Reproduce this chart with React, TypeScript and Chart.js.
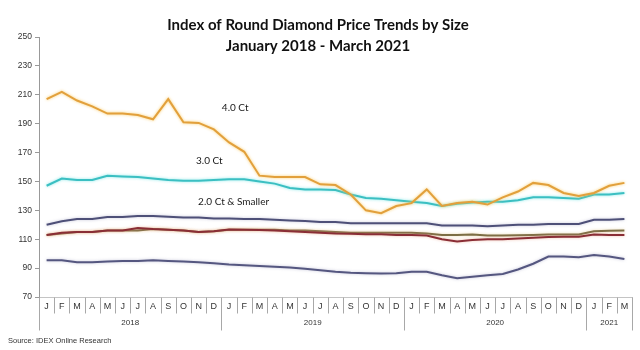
import React, { useEffect, useRef } from "react";
import { Chart, registerables } from "chart.js";

Chart.register(...registerables);

// ---------- data ----------
const monthLabels = [
  "J", "F", "M", "A", "M", "J", "J", "A", "S", "O", "N", "D",
  "J", "F", "M", "A", "M", "J", "J", "A", "S", "O", "N", "D",
  "J", "F", "M", "A", "M", "J", "J", "A", "S", "O", "N", "D",
  "J", "F", "M",
];
const yearLabels = ["2018", "2019", "2020", "2021"];
const monthsPerYear = [12, 12, 12, 3];
const yTickValues = [70, 90, 110, 130, 150, 170, 190, 210, 230, 250];

const ct40 = [
  207, 212, 206, 202, 197, 197, 196, 193, 207, 191, 190.5, 186,
  177, 170.5, 154, 153, 153, 153, 148, 147.5, 141, 130, 128, 133,
  135, 144.5, 133, 135, 136, 134, 139, 143, 149, 147.5, 142, 140,
  142, 147, 149,
];
const ct30 = [
  147, 152, 151, 151, 154, 153.5, 153, 152, 151, 150.5, 150.5, 151,
  151.5, 151.5, 150, 148.5, 145.5, 144.5, 144.5, 144, 141, 138.5, 138, 137,
  136, 135, 133, 134.5, 135.5, 136, 136, 137, 139, 139, 138.5, 138,
  141, 141, 142,
];
const smallerA = [
  120, 122.5, 124, 124, 125.3, 125.3, 126, 126, 125.5, 125, 125, 124.4,
  124.4, 124, 124, 123.5, 123, 122.6, 122, 122, 121, 121, 121, 121,
  121, 121, 119.5, 119.5, 119.5, 119, 119.5, 120, 120, 120.5, 120.5, 120.6,
  123.5, 123.5, 124,
];
const smallerB = [
  113, 114, 115, 115, 116, 116, 116, 117, 116.5, 116, 115, 115.5,
  116.5, 116.5, 116.5, 116.5, 116, 116, 115.5, 115, 114.5, 114.5, 114.5, 114.5,
  114.5, 114, 113, 113, 113.2, 112.5, 112.5, 112.8, 113, 113.2, 113.3, 113.3,
  115.5, 115.8, 116,
];
const smallerC = [
  113, 114.5, 115, 115, 116, 116, 117.8, 117, 116.5, 116, 115, 115.5,
  116.8, 116.5, 116.4, 116, 115.5, 115, 114.5, 114, 113.8, 113.5, 113.5, 113,
  113, 112.5, 110, 108.5, 109.5, 110, 110, 110.5, 111, 111.5, 111.7, 111.7,
  113.2, 113, 113,
];
const smallerD = [
  95.5, 95.5, 94, 94, 94.5, 95, 95, 95.5, 95, 94.5, 94, 93.3,
  92.5, 92, 91.5, 91, 90.5, 89.5, 88.5, 87.5, 86.8, 86.5, 86.3, 86.5,
  87.5, 87.5, 85, 83, 84, 85, 86, 89, 93, 98, 98, 97.5,
  99, 98, 96.3,
];

const titleLines = ["Index of Round Diamond Price Trends by Size", "January 2018 - March 2021"];
const sourceText = "Source: IDEX Online Research";

// series label annotations (anchored in data space)
const seriesLabels = [
  { text: "4.0 Ct", index: 12.4, value: 200.8 },
  { text: "3.0 Ct", index: 10.7, value: 164 },
  { text: "2.0 Ct & Smaller", index: 12.3, value: 135.7 },
];

const FONT = "Lato, 'Open Sans', sans-serif";

const decorPlugin = {
  id: "decor",
  beforeDatasetDraw(chart: any, args: any) {
    const ds = chart.data.datasets[args.index];
    const ctx = chart.ctx;
    ctx.save();
    ctx.shadowColor = ds.glow || "rgba(0,0,0,0)";
    ctx.shadowBlur = 3;
  },
  afterDatasetDraw(chart: any) {
    chart.ctx.restore();
  },
  afterDraw(chart: any) {
    const { ctx, chartArea } = chart;
    const x = chart.scales.x;
    const y = chart.scales.y;
    ctx.save();
    // title
    ctx.fillStyle = "#111";
    ctx.textAlign = "center";
    ctx.textBaseline = "middle";
    ctx.font = `bold 15px ${FONT}`;
    ctx.fillText(titleLines[0], 318, 25);
    ctx.fillText(titleLines[1], 318, 46);

    // category separators and year labels
    const n = monthLabels.length;
    const boundary = (i: number) => {
      if (i === 0) return chartArea.left;
      if (i === n) return chartArea.right;
      return (x.getPixelForValue(i - 1) + x.getPixelForValue(i)) / 2;
    };
    const yearStarts: number[] = [];
    let acc = 0;
    for (const m of monthsPerYear) {
      yearStarts.push(acc);
      acc += m;
    }
    yearStarts.push(acc);
    ctx.strokeStyle = "#a8a8a8";
    ctx.lineWidth = 1;
    const bottom = Math.round(chartArea.bottom) + 0.5;
    for (let i = 0; i <= n; i++) {
      const bx = Math.round(boundary(i)) + 0.5;
      const isYear = yearStarts.includes(i);
      ctx.beginPath();
      ctx.moveTo(bx, bottom);
      ctx.lineTo(bx, bottom + (isYear ? 33 : 16));
      ctx.stroke();
    }
    ctx.fillStyle = "#333";
    ctx.font = `8px 'Liberation Sans', Arial, sans-serif`;
    for (let k = 0; k < yearLabels.length; k++) {
      const a = boundary(yearStarts[k]);
      const b = boundary(yearStarts[k + 1]);
      ctx.fillText(yearLabels[k], (a + b) / 2, bottom + 25);
    }

    // series labels
    ctx.fillStyle = "#1a1a1a";
    ctx.font = `10px ${FONT}`;
    for (const l of seriesLabels) {
      const px = x.left + ((l.index + 0.5) / n) * (x.right - x.left);
      ctx.fillText(l.text, px, y.getPixelForValue(l.value));
    }

    // source
    ctx.textAlign = "left";
    ctx.fillStyle = "#333";
    ctx.font = `7.5px 'Liberation Sans', Arial, sans-serif`;
    ctx.fillText(sourceText, 8, 341);
    ctx.restore();
  },
};

export default function App() {
  const ref = useRef<HTMLCanvasElement | null>(null);
  useEffect(() => {
    document.body.style.margin = "0";
    const canvas = ref.current;
    if (!canvas) return;
    const mk = (label: string, data: number[], color: string, glow: string) => ({
      label,
      data,
      borderColor: color,
      backgroundColor: color,
      borderWidth: 2,
      pointRadius: 0,
      tension: 0,
      fill: false,
      glow,
    });
    const chart = new Chart(canvas, {
      type: "line",
      data: {
        labels: monthLabels,
        datasets: [
          mk("4.0 Ct", ct40, "#E2A03C", "rgba(250,200,90,0.9)"),
          mk("3.0 Ct", ct30, "#3BBFC2", "rgba(120,230,230,0.9)"),
          mk("2.0 Ct & Smaller (a)", smallerA, "#4E5078", "rgba(140,140,180,0.5)"),
          mk("2.0 Ct & Smaller (c)", smallerC, "#8A2E36", "rgba(230,150,120,0.6)"),
          mk("2.0 Ct & Smaller (b)", smallerB, "#7C6E45", "rgba(220,190,120,0.6)"),
          mk("2.0 Ct & Smaller (d)", smallerD, "#555780", "rgba(140,140,180,0.5)"),
        ] as any,
      },
      options: {
        responsive: false,
        animation: false,
        layout: { padding: { top: 37, right: 8, left: 0, bottom: 0 } },
        plugins: {
          legend: { display: false },
          title: { display: false },
          tooltip: { enabled: false },
        },
        scales: {
          x: {
            type: "category",
            offset: true,
            grid: { display: false, drawTicks: false },
            border: { display: true, color: "#c4c4c4" },
            ticks: {
              color: "#333",
              font: { size: 9, family: "'Liberation Sans', Arial, sans-serif" },
              padding: 4,
              maxRotation: 0,
              autoSkip: false,
            },
            afterFit: (s: any) => {
              s.height = 53;
            },
          },
          y: {
            min: 70,
            max: 250,
            afterBuildTicks: (s: any) => {
              s.ticks = yTickValues.map((v) => ({ value: v }));
            },
            grid: { drawOnChartArea: false, drawTicks: true, tickLength: 4, color: "#999" },
            border: { display: true, color: "#999" },
            ticks: {
              color: "#333",
              font: { size: 8.5, family: "'Liberation Sans', Arial, sans-serif" },
              padding: 3,
            },
            afterFit: (s: any) => {
              s.width = 39;
            },
          },
        },
      } as any,
      plugins: [decorPlugin],
    });
    return () => chart.destroy();
  }, []);
  return <canvas ref={ref} width={640} height={350} style={{ display: "block" }} />;
}
